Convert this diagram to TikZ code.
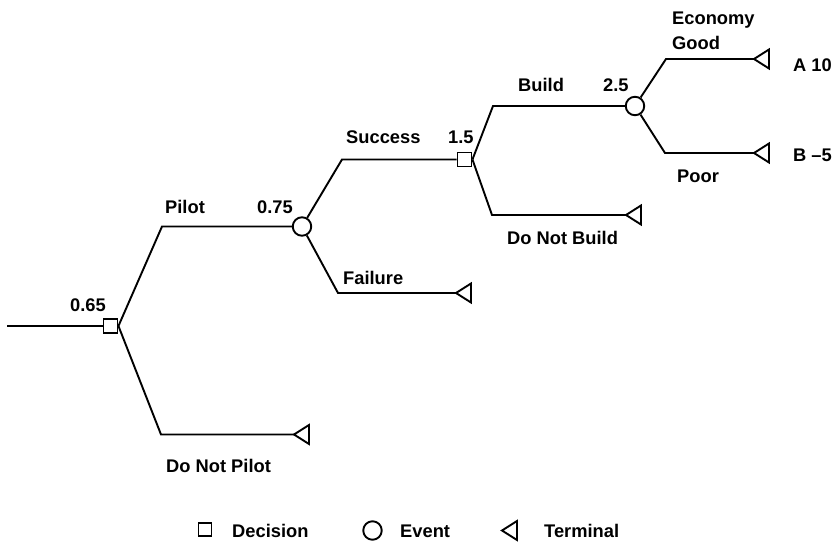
\documentclass[tikz,border=0pt]{standalone}
\usepackage{fontspec}
\setmainfont{Liberation Sans}
\begin{document}
\begin{tikzpicture}[x=1pt,y=-1pt,
  branch/.style={line width=1.9pt, line join=miter},
  decision/.style={draw, line width=1.9pt, rectangle, minimum size=14pt, inner sep=0pt, fill=white},
  event/.style={draw, line width=1.9pt, circle, minimum size=18.5pt, inner sep=0pt, fill=white},
  lbl/.style={anchor=base west, inner sep=0pt, font=\fontsize{18.3}{21}\selectfont\bfseries},
  terminal/.pic={
    \coordinate (-tip) at (0,0);
    \draw[line width=1.9pt, line join=miter] (0,0) -- (15,-9.5) -- (15,9.5) -- cycle;
  }
]
\path[use as bounding box] (0,0) rectangle (835,543);

% decision and event nodes
\coordinate (start) at (7,326);
\node[decision] (d1) at (110.5,326) {};
\node[event]    (e1) at (302,226.5) {};
\node[decision] (d2) at (464.5,159.5) {};
\node[event]    (e2) at (635,106) {};

% bends of the branches
\coordinate (cPilot)   at (162,226.5);
\coordinate (cNoPilot) at (161,434.5);
\coordinate (cSucc)    at (342,159.5);
\coordinate (cFail)    at (338,293);
\coordinate (cBuild)   at (493,106);
\coordinate (cNoBuild) at (492,215);
\coordinate (cGood)    at (666,59);
\coordinate (cPoor)    at (665,153);

% terminal nodes
\pic (tNoPilot) at (294,434.5) {terminal};
\pic (tFail)    at (456,293)   {terminal};
\pic (tNoBuild) at (626,215)   {terminal};
\pic (tGood)    at (754,59)    {terminal};
\pic (tPoor)    at (754,153)   {terminal};

% branches
\draw[branch] (start) -- (d1.west);
\draw[branch] (d1.east) -- (cPilot) -- (e1);
\draw[branch] (d1.east) -- (cNoPilot) -- (tNoPilot-tip);
\draw[branch] (e1) -- (cSucc) -- (d2);
\draw[branch] (e1) -- (cFail) -- (tFail-tip);
\draw[branch] (d2.east) -- (cBuild) -- (e2);
\draw[branch] (d2.east) -- (cNoBuild) -- (tNoBuild-tip);
\draw[branch] (e2) -- (cGood) -- (tGood-tip);
\draw[branch] (e2) -- (cPoor) -- (tPoor-tip);

% labels
\node[lbl] (v1)   at (70,311.5)  {0.65};
\node[lbl] (lP)   at (165,213.5) {Pilot};
\node[lbl] (v2)   at (257,213.5) {0.75};
\node[lbl] (lS)   at (346,143.5) {Success};
\node[lbl] (v3)   at (448,143.5) {1.5};
\node[lbl] (lF)   at (343,284.5) {Failure};
\node[lbl] (lB)   at (518,91.5)  {Build};
\node[lbl] (v4)   at (603,91.5)  {2.5};
\node[lbl] (lNB)  at (507,244.5) {Do Not Build};
\node[lbl] (lEc)  at (672,25)    {Economy};
\node[lbl] (lG)   at (672,50)    {Good};
\node[lbl] (lPo)  at (677,182)   {Poor};
\node[lbl] (lA)   at (793,71)    {A 10};
\node[lbl] (lBm)  at (793,161)   {B \textendash5};
\node[lbl] (lNP)  at (166,472)   {Do Not Pilot};

% key
\node[decision, minimum size=13pt] (kD) at (205,529.5) {};
\node[lbl] (kDt) at (232,537) {Decision};
\node[event] (kE) at (372.5,530.5) {};
\node[lbl] (kEt) at (400,537) {Event};
\pic (kT) at (502,530.5) {terminal};
\node[lbl] (kTt) at (544,537) {Terminal};
\end{tikzpicture}
\end{document}
